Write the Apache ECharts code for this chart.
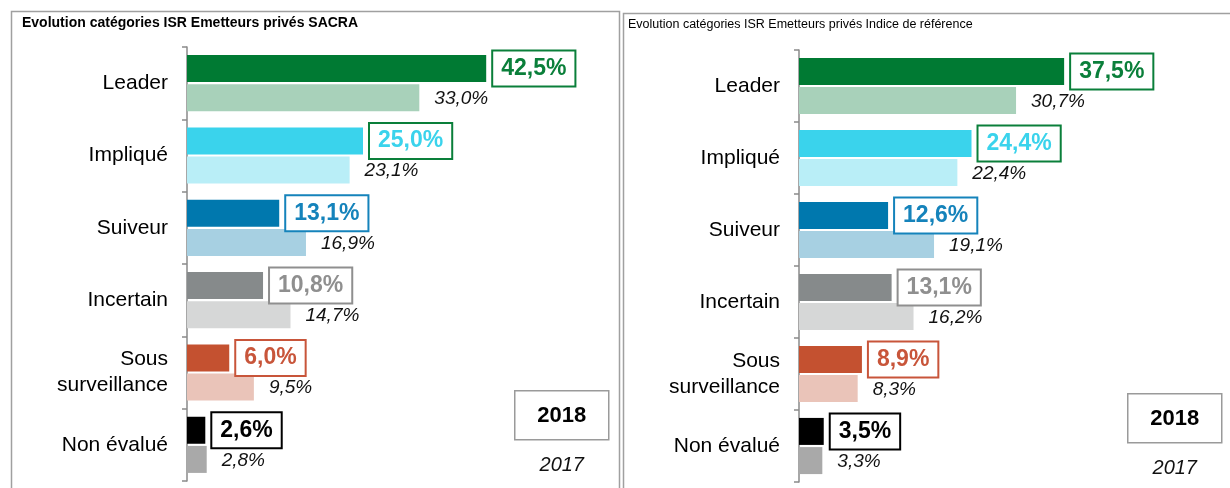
<!DOCTYPE html>
<html>
<head>
<meta charset="utf-8">
<title>Evolution catégories ISR</title>
<script src="https://cdn.jsdelivr.net/npm/echarts@6/dist/echarts.min.js"></script>
<style>
  html, body { margin: 0; padding: 0; background: #fff; }
  #chart { width: 1230px; height: 488px; }
</style>
</head>
<body>
<div id="chart"></div>
<script>
// catégories ISR (de haut en bas)
const categories = ['Leader', 'Impliqué', 'Suiveur', 'Incertain', 'Sous\nsurveillance', 'Non évalué'];
const years = ['2018', '2017'];

// SACRA
const sacra2018 = [42.5, 25.0, 13.1, 10.8, 6.0, 2.6];
const sacra2017 = [33.0, 23.1, 16.9, 14.7, 9.5, 2.8];
// Indice de référence
const indice2018 = [37.5, 24.4, 12.6, 13.1, 8.9, 3.5];
const indice2017 = [30.7, 22.4, 19.1, 16.2, 8.3, 3.3];

// couleurs par catégorie
const darkColors = ['#007A33', '#3AD3EC', '#0078AE', '#868A8B', '#C45130', '#000000'];
const lightColors = ['#A8D1BA', '#B9EEF7', '#A7D0E2', '#D6D7D7', '#EAC4B9', '#A9A9A9'];
const labelColors = ['#0A7F3A', '#3AD3EC', '#1583BB', '#8F8F8F', '#C8553A', '#000000'];
const boxColors = ['#0A7F3A', '#0A7F3A', '#1583BB', '#8F8F8F', '#C8553A', '#000000'];

const FONT = '"Liberation Sans", Arial, sans-serif';

function pct(v) {
  return v.toFixed(1).replace('.', ',') + '%';
}

function data2018(values) {
  return values.map((v, i) => ({
    value: v,
    itemStyle: { color: darkColors[i] },
    label: { color: labelColors[i], borderColor: boxColors[i] }
  }));
}
function data2017(values) {
  return values.map((v, i) => ({
    value: v,
    itemStyle: { color: lightColors[i] }
  }));
}

function barSeries(name, idx, data, is2018) {
  return {
    name: name,
    type: 'bar',
    xAxisIndex: idx,
    yAxisIndex: idx,
    barWidth: 27,
    barGap: '8%',
    data: data,
    z: is2018 ? 3 : 2,
    label: is2018 ? {
      show: true,
      position: 'right',
      distance: 7,
      formatter: p => pct(p.value),
      fontFamily: FONT,
      fontSize: 23,
      fontWeight: 'bold',
      backgroundColor: '#fff',
      borderWidth: 2,
      padding: [6, 8, 5, 8]
    } : {
      show: true,
      position: 'right',
      distance: 15,
      offset: [0, 1],
      formatter: p => pct(p.value),
      fontFamily: FONT,
      fontSize: 19,
      fontStyle: 'italic',
      color: '#111'
    }
  };
}

function catAxis(idx) {
  return {
    type: 'category',
    gridIndex: idx,
    data: categories,
    inverse: true,
    axisLine: { lineStyle: { color: '#8a8a8a', width: 1.5 } },
    axisTick: { show: true, length: 5, lineStyle: { color: '#8a8a8a', width: 1.5 } },
    axisLabel: {
      margin: 19,
      fontFamily: FONT,
      fontSize: 21,
      color: '#000',
      lineHeight: 26,
      align: 'right'
    }
  };
}

function valAxis(idx) {
  return {
    type: 'value',
    gridIndex: idx,
    min: 0,
    max: 50,
    show: false,
    splitLine: { show: false }
  };
}

function yearLegend(x, y) {
  return {
    type: 'group',
    left: x,
    top: y,
    children: [
      { type: 'rect', shape: { x: 0, y: 0, width: 94, height: 49 },
        style: { fill: '#fff', stroke: '#9a9a9a', lineWidth: 1.5 } },
      { type: 'text', x: 47, y: 25,
        style: { text: years[0], fill: '#000', font: 'bold 22px ' + FONT, align: 'center', verticalAlign: 'middle' } },
      { type: 'text', x: 47, y: 75,
        style: { text: years[1], fill: '#111', font: 'italic 20px ' + FONT, align: 'center', verticalAlign: 'middle' } }
    ]
  };
}

const chart = echarts.init(document.getElementById('chart'), null, { renderer: 'canvas' });

chart.setOption({
  backgroundColor: '#fff',
  animation: false,
  title: [{
    text: 'Evolution catégories ISR Emetteurs privés SACRA',
    left: 17,
    top: 11,
    textStyle: { fontFamily: FONT, fontSize: 14, fontWeight: 'bold', color: '#000' }
  }, {
    text: 'Evolution catégories ISR Emetteurs privés Indice de référence',
    left: 623,
    top: 13,
    textStyle: { fontFamily: FONT, fontSize: 12.5, fontWeight: 'normal', color: '#000' }
  }],
  grid: [
    { left: 187, top: 47, width: 352, height: 434 },
    { left: 799, top: 50, width: 353.5, height: 432 }
  ],
  xAxis: [valAxis(0), valAxis(1)],
  yAxis: [catAxis(0), catAxis(1)],
  series: [
    barSeries(years[0], 0, data2018(sacra2018), true),
    barSeries(years[1], 0, data2017(sacra2017), false),
    barSeries(years[0], 1, data2018(indice2018), true),
    barSeries(years[1], 1, data2017(indice2017), false)
  ],
  graphic: [
    // cadres des deux panneaux
    { type: 'rect', left: 9, top: 9, z: -1,
      shape: { x: 0, y: 0, width: 608, height: 500 },
      style: { fill: 'none', stroke: '#a0a0a0', lineWidth: 1.5 } },
    { type: 'rect', left: 621, top: 11, z: -1,
      shape: { x: 0, y: 0, width: 620, height: 500 },
      style: { fill: 'none', stroke: '#a0a0a0', lineWidth: 1.5 } },
    yearLegend(514, 390),
    yearLegend(1127, 393)
  ]
});
</script>
</body>
</html>
